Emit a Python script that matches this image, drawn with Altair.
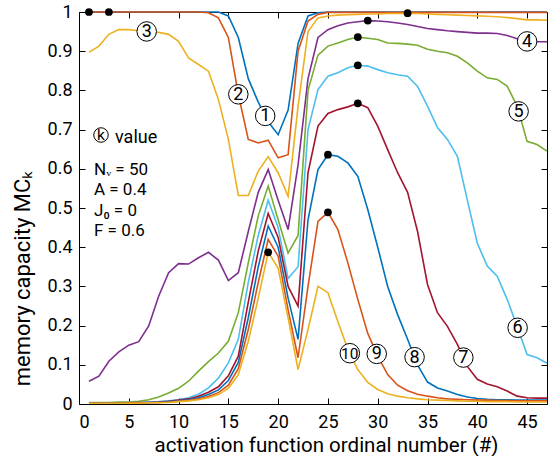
import altair as alt
import numpy as np
import pandas as pd

FONT = "Roboto"

x_vals = list(range(1, 48))

mc1 = [1.0] * 14 + [0.99, 0.935, 0.83, 0.77, 0.72, 0.687, 0.75, 0.92, 0.99, 0.998] + [1.0] * 23
mc2 = [1.0] * 12 + [0.998, 0.985, 0.935, 0.79, 0.675, 0.666, 0.673, 0.628, 0.636, 0.90, 0.977, 0.994] + [0.999] * 23
mc3 = [0.897, 0.913, 0.943, 0.955, 0.955, 0.952, 0.95, 0.948, 0.943, 0.925, 0.883, 0.866, 0.849, 0.777,
       0.675, 0.532, 0.532, 0.594, 0.631, 0.59, 0.53, 0.76, 0.95,
       0.985, 0.99, 0.992, 0.993, 0.994, 0.995, 0.995, 0.996, 0.996, 0.997, 0.996, 0.995, 0.994, 0.993,
       0.992, 0.991, 0.99, 0.989, 0.988, 0.986, 0.983, 0.98, 0.98, 0.979]
mc4 = [0.058, 0.071, 0.109, 0.133, 0.15, 0.159, 0.199, 0.275, 0.335, 0.358, 0.357, 0.373, 0.387, 0.367,
       0.315, 0.335, 0.44, 0.54, 0.598, 0.52, 0.445, 0.61, 0.83, 0.935,
       0.955, 0.965, 0.972, 0.975, 0.978, 0.977, 0.975, 0.972, 0.968, 0.963, 0.958, 0.955, 0.952, 0.95,
       0.948, 0.946, 0.946, 0.945, 0.94, 0.932, 0.925, 0.924, 0.924]
mc5 = [0.004, 0.004, 0.004, 0.005, 0.005, 0.007, 0.011, 0.018, 0.028, 0.04, 0.058, 0.084, 0.108, 0.13,
       0.16, 0.233, 0.36, 0.48, 0.556, 0.47, 0.385, 0.43, 0.80, 0.89,
       0.913, 0.921, 0.93, 0.936, 0.933, 0.93, 0.921, 0.92, 0.918, 0.915, 0.905, 0.90, 0.896, 0.887,
       0.87, 0.849, 0.832, 0.828, 0.811, 0.76, 0.67, 0.662, 0.645]
mc6 = [0.003, 0.003, 0.003, 0.003, 0.004, 0.004, 0.005, 0.006, 0.008, 0.011, 0.016, 0.025, 0.041, 0.066,
       0.105, 0.165, 0.31, 0.43, 0.52, 0.45, 0.32, 0.35, 0.70, 0.802,
       0.836, 0.845, 0.858, 0.864, 0.862, 0.853, 0.845, 0.84, 0.836, 0.81, 0.76, 0.705, 0.675, 0.632,
       0.52, 0.41, 0.352, 0.326, 0.267, 0.198, 0.126, 0.118, 0.104]
mc7 = [0.003, 0.003, 0.003, 0.003, 0.003, 0.004, 0.004, 0.005, 0.007, 0.01, 0.013, 0.02, 0.03, 0.044,
       0.072, 0.122, 0.26, 0.39, 0.486, 0.425, 0.30, 0.25, 0.59, 0.709,
       0.741, 0.751, 0.758, 0.767, 0.756, 0.709, 0.649, 0.59, 0.54, 0.44, 0.305, 0.233, 0.198, 0.152,
       0.096, 0.063, 0.051, 0.044, 0.033, 0.02, 0.016, 0.015, 0.015]
mc8 = [0.003, 0.003, 0.003, 0.003, 0.003, 0.003, 0.004, 0.004, 0.006, 0.008, 0.011, 0.016, 0.024, 0.036,
       0.06, 0.106, 0.22, 0.35, 0.454, 0.40, 0.27, 0.165, 0.47, 0.598,
       0.636, 0.632, 0.615, 0.581, 0.496, 0.40, 0.30, 0.228, 0.165, 0.10, 0.056, 0.041, 0.033, 0.024,
       0.018, 0.014, 0.012, 0.011, 0.011, 0.01, 0.01, 0.01, 0.01]
mc9 = [0.002, 0.002, 0.002, 0.002, 0.003, 0.003, 0.003, 0.004, 0.005, 0.007, 0.009, 0.013, 0.019, 0.029,
       0.048, 0.09, 0.19, 0.31, 0.42, 0.377, 0.24, 0.118, 0.30, 0.466,
       0.489, 0.445, 0.36, 0.267, 0.18, 0.122, 0.075, 0.048, 0.034, 0.025, 0.02, 0.016, 0.013, 0.012,
       0.011, 0.01, 0.01, 0.009, 0.009, 0.008, 0.008, 0.008, 0.008]
mc10 = [0.002, 0.002, 0.002, 0.002, 0.002, 0.002, 0.003, 0.003, 0.004, 0.006, 0.008, 0.011, 0.016, 0.024,
        0.04, 0.075, 0.16, 0.27, 0.387, 0.347, 0.22, 0.088, 0.19, 0.30,
        0.284, 0.21, 0.14, 0.088, 0.055, 0.037, 0.026, 0.02, 0.016, 0.013, 0.011, 0.01, 0.009, 0.008,
        0.007, 0.007, 0.006, 0.006, 0.006, 0.005, 0.005, 0.005, 0.005]

series = [mc1, mc2, mc3, mc4, mc5, mc6, mc7, mc8, mc9, mc10]
k_names = [str(i) for i in range(1, 11)]
colors = ["#0072BD", "#D95319", "#EDB120", "#7E2F8E", "#77AC30",
          "#4DBEEE", "#A2142F", "#0072BD", "#D95319", "#EDB120"]
peak_x = [1, 3, 33, 29, 28, 28, 28, 25, 25, 19]
label_x = [18.7, 16.0, 6.8, 45.0, 44.15, 44.05, 38.6, 33.7, 29.9, 27.2]
x_ticks = [0, 5, 10, 15, 20, 25, 30, 35, 40, 45]
y_ticks = [0, 0.1, 0.2, 0.3, 0.4, 0.5, 0.6, 0.7, 0.8, 0.9, 1]
param_lines = ["Nᵥ = 50", "A = 0.4", "J₀ = 0", "F = 0.6"]

rows = []
for k, s in zip(k_names, series):
    for xv, yv in zip(x_vals, s):
        rows.append({"k": k, "x": xv, "y": yv})
df = pd.DataFrame(rows)

peaks = pd.DataFrame({
    "k": k_names,
    "x": peak_x,
    "y": [s[x_vals.index(px)] for s, px in zip(series, peak_x)],
})
labels = pd.DataFrame({
    "k": k_names,
    "x": label_x,
    "y": [float(np.interp(lx, x_vals, s)) for s, lx in zip(series, label_x)],
})

xscale = alt.Scale(domain=[0, 47], nice=False, zero=False)
yscale = alt.Scale(domain=[0, 1], nice=False)

common = dict(offset=-6, domain=False, grid=False, tickSize=6, tickColor="black", tickWidth=1)

bottom_axis = alt.Axis(orient="bottom", values=x_ticks, labelFont=FONT, labelFontSize=18,
                       labelColor="black", labelPadding=9,
                       title="activation function ordinal number (#)", titleFont=FONT,
                       titleFontSize=20.5, titleFontWeight="normal", titleColor="black",
                       titleX=247, titleY=53, titleBaseline="alphabetic", **common)
left_axis = alt.Axis(orient="left", values=y_ticks, format="~g", labelFont=FONT, labelFontSize=18,
                     labelColor="black", labelPadding=7,
                     title="memory capacity MCₖ", titleFont=FONT, titleFontSize=22,
                     titleFontWeight="normal", titleColor="black",
                     titleX=-63, titleY=266, titleBaseline="middle", **common)
top_axis = alt.Axis(orient="top", values=x_ticks, labels=False, title=None, **common)
right_axis = alt.Axis(orient="right", values=y_ticks, labels=False, title=None, **common)

lines = alt.Chart(df).mark_line(strokeWidth=1.6).encode(
    x=alt.X("x:Q", scale=xscale, axis=bottom_axis),
    y=alt.Y("y:Q", scale=yscale, axis=left_axis),
    color=alt.Color("k:N", scale=alt.Scale(domain=k_names, range=colors), legend=None),
)

dots = alt.Chart(peaks).mark_circle(size=60, color="black", opacity=1).encode(
    x=alt.X("x:Q", scale=xscale, axis=top_axis),
    y=alt.Y("y:Q", scale=yscale, axis=right_axis),
)

label_circles = alt.Chart(labels).mark_point(
    shape="circle", filled=True, fill="white", stroke="black", strokeWidth=1, size=380, opacity=1
).encode(
    x=alt.X("x:Q", scale=xscale, axis=None),
    y=alt.Y("y:Q", scale=yscale, axis=None),
)

label_text = alt.Chart(labels).mark_text(font=FONT, color="black", dy=0.5).encode(
    x=alt.X("x:Q", scale=xscale, axis=None),
    y=alt.Y("y:Q", scale=yscale, axis=None),
    text="k:N",
    size=alt.condition("datum.k == '10'", alt.value(15.5), alt.value(18)),
)

note_df = pd.DataFrame({"t": ["k"]})
k_circle = alt.Chart(note_df).mark_point(
    shape="circle", filled=True, fill="white", stroke="black", strokeWidth=1, size=210, opacity=1
).encode(x=alt.value(22), y=alt.value(123))
k_text = alt.Chart(note_df).mark_text(font=FONT, fontSize=15.5, color="black", baseline="middle").encode(
    x=alt.value(22), y=alt.value(122.5), text="t:N")
value_text = alt.Chart(pd.DataFrame({"t": ["value"]})).mark_text(
    font=FONT, fontSize=18, color="black", align="left", baseline="alphabetic"
).encode(x=alt.value(36), y=alt.value(131), text="t:N")

param_layers = []
for i, line in enumerate(param_lines):
    param_layers.append(
        alt.Chart(pd.DataFrame({"t": [line]})).mark_text(
            font=FONT, fontSize=17, color="black", align="left", baseline="alphabetic"
        ).encode(x=alt.value(15), y=alt.value(163 + 20.4 * i), text="t:N")
    )

chart = alt.layer(
    lines, dots, label_circles, label_text, k_circle, k_text, value_text, *param_layers
).resolve_axis(x="independent", y="independent").properties(
    width=468, height=392,
    padding={"left": 79, "top": 12, "right": 5, "bottom": 52},
    autosize=alt.AutoSizeParams(type="none"),
).configure_view(stroke="black", strokeWidth=1)

chart.save("out.html", embed_options={"renderer": "svg", "actions": False})
